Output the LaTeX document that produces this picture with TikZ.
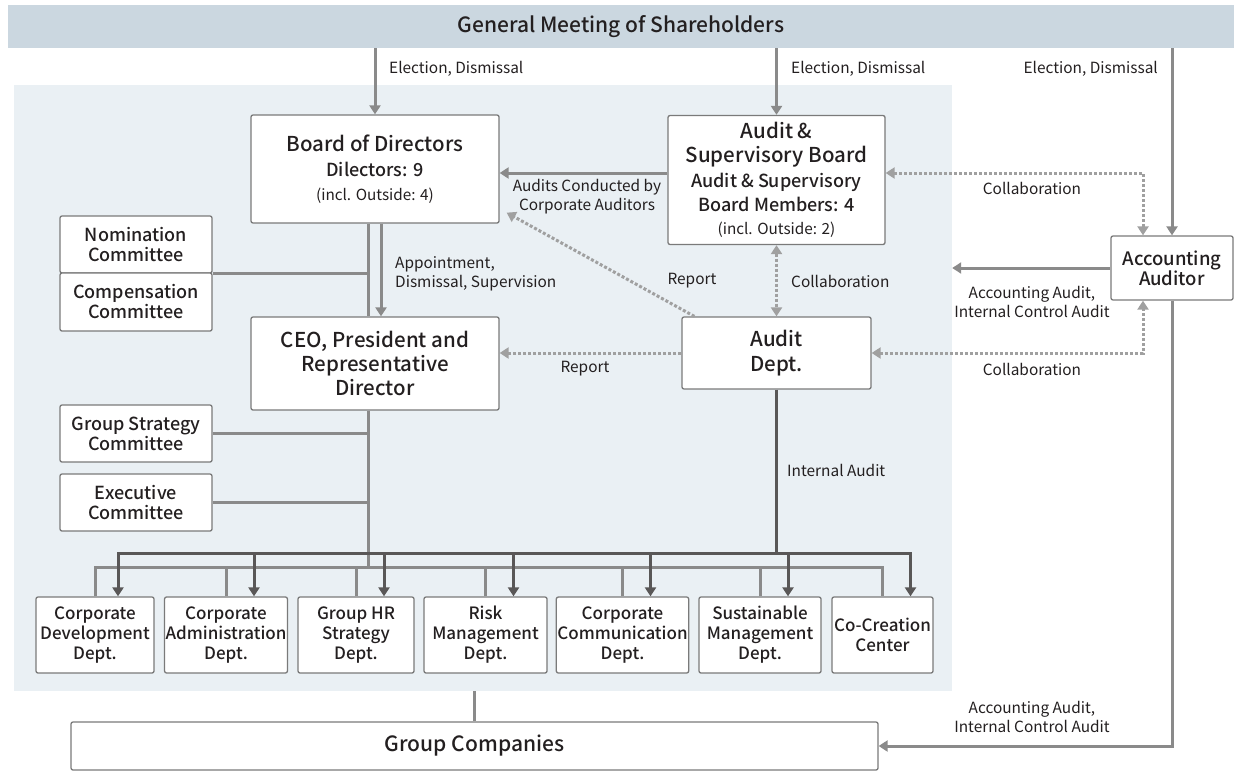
\documentclass[tikz,border=0pt]{standalone}
\usepackage{fontspec}
\setmainfont{Noto Sans CJK JP}[BoldFont={Noto Sans CJK JP Medium}]
\usetikzlibrary{arrows.meta}

\definecolor{bannerblue}{HTML}{CBD7E0}
\definecolor{panelblue}{HTML}{EAF0F4}
\definecolor{edgegray}{HTML}{7A7A7A}
\definecolor{linegray}{HTML}{8A8A8A}
\definecolor{busgray}{HTML}{595757}
\definecolor{dotgray}{HTML}{A0A0A0}
\definecolor{inkgray}{HTML}{231F20}

\newcommand\subline[1]{{\fontsize{18}{22}\selectfont #1}}
\newcommand\outline[1]{{\mdseries\fontsize{15.3}{19}\selectfont #1}}

\tikzset{
	box/.style={draw=edgegray, fill=white, line width=1.3pt, rounded corners=2pt, align=center, inner sep=1pt, text=inkgray, font=\bfseries\fontsize{20.5}{24}\selectfont},
	dept/.style={box, minimum height=76pt, font=\bfseries\fontsize{17}{20}\selectfont},
	cmte/.style={box, minimum width=152pt, font=\bfseries\fontsize{18}{20}\selectfont},
	lbl/.style={text=inkgray, inner sep=0pt, align=center, font=\fontsize{15.4}{19}\selectfont},
	tip/.style={-{Triangle[width=11pt,length=9pt]}},
	tips/.style={{Triangle[width=11pt,length=9pt]}-{Triangle[width=11pt,length=9pt]}},
	solidline/.style={draw=linegray, line width=3pt},
	busline/.style={draw=busgray, line width=3pt},
	dotline/.style={draw=dotgray, line width=3pt, dash pattern=on 3pt off 2pt},
}

\begin{document}
\begin{tikzpicture}[x=1pt,y=-1pt]
	\useasboundingbox (0,0) rectangle (1234,771);

	\node[fill=bannerblue, minimum width=1226pt, minimum height=43pt, text=inkgray, font=\bfseries\fontsize{21}{24}\selectfont] (gms) at (621,26.5) {General Meeting of Shareholders};
	\node[fill=panelblue, minimum width=938pt, minimum height=606pt] (panel) at (483,388) {};

	\node[box, minimum width=248pt, minimum height=108pt] (brd) at (375,169) {Board of Directors\\[1pt]\subline{Dilectors: 9}\\\outline{(incl. Outside: 4)}};
	\node[box, minimum width=217pt, minimum height=129pt] (aud) at (776.5,180) {Audit \&\\Supervisory Board\\[1pt]\subline{Audit \& Supervisory}\\\subline{Board Members: 4}\\[-1pt]\outline{(incl. Outside: 2)}};
	\node[box, minimum width=122pt, minimum height=64pt, font=\bfseries\fontsize{18.5}{20}\selectfont] (acc) at (1172,268) {Accounting\\Auditor};
	\node[box, minimum width=248pt, minimum height=93pt] (ceo) at (375,363.5) {CEO, President and\\Representative\\Director};
	\node[box, minimum width=189pt, minimum height=72pt, font=\bfseries\fontsize{20.5}{25}\selectfont] (adp) at (776.5,353) {Audit\\Dept.};

	\node[cmte, minimum height=57pt] (nom) at (136,244.5) {Nomination\\Committee};
	\node[cmte, minimum height=58pt] (cmp) at (136,302) {Compensation\\Committee};
	\node[cmte, minimum height=57pt] (gsc) at (136,433.5) {Group Strategy\\Committee};
	\node[cmte, minimum height=57pt] (exc) at (136,502.5) {Executive\\Committee};

	\node[dept, minimum width=118pt] (d1) at (95,635) {Corporate\\Development\\Dept.};
	\node[dept, minimum width=122pt] (d2) at (226,635) {Corporate\\Administration\\Dept.};
	\node[dept, minimum width=116pt] (d3) at (356,635) {Group HR\\Strategy\\Dept.};
	\node[dept, minimum width=123pt] (d4) at (485.5,635) {Risk\\Management\\Dept.};
	\node[dept, minimum width=131pt] (d5) at (622.5,635) {Corporate\\Communication\\Dept.};
	\node[dept, minimum width=122pt] (d6) at (760,635) {Sustainable\\Management\\Dept.};
	\node[dept, minimum width=101pt] (d7) at (882.5,635) {Co-Creation\\Center};

	\node[box, minimum width=807pt, minimum height=48pt, font=\bfseries\fontsize{21}{24}\selectfont] (grp) at (474.5,746) {Group Companies};

	\node[lbl, anchor=west] (el1) at (389,69) {Election, Dismissal};
	\node[lbl, anchor=west] (el2) at (791,69) {Election, Dismissal};
	\node[lbl, anchor=east] (el3) at (1158,69) {Election, Dismissal};
	\node[lbl] (acp) at (587,197) {Audits Conducted by\\Corporate Auditors};
	\node[lbl] (rp1) at (692,281) {Report};
	\node[lbl, anchor=west] (cl1) at (791,281) {Collaboration};
	\node[lbl, anchor=west, align=left] (apt) at (395,274) {Appointment,\\Dismissal, Supervision};
	\node[lbl] (rp2) at (585,369) {Report};
	\node[lbl] (cl2) at (1032,188) {Collaboration};
	\node[lbl] (aa1) at (1032,302) {Accounting Audit,\\Internal Control Audit};
	\node[lbl] (cl3) at (1032,369) {Collaboration};
	\node[lbl, anchor=west] (ina) at (787,470) {Internal Audit};
	\node[lbl] (aa2) at (1032,717) {Accounting Audit,\\Internal Control Audit};

	\coordinate (dkbus) at (0,553);
	\coordinate (grbus) at (0,567);
	\coordinate (trunk) at ([xshift=-7pt]ceo.south);

	\draw[solidline,tip] (gms.south -| brd.north) -- (brd.north);
	\draw[solidline,tip] (gms.south -| aud.north) -- (aud.north);
	\draw[solidline,tip] (gms.south -| acc.north) -- (acc.north);

	\draw[solidline,tip] (aud.west |- 0,173) -- (brd.east |- 0,173);
	\draw[dotline,tip] ([xshift=13pt]adp.north west) -- ([xshift=7pt,yshift=11pt]brd.south east);
	\draw[dotline,tip] (adp.west) -- (adp.west -| ceo.east);
	\draw[dotline,tips] (aud.south) -- (adp.north);
	\draw[dotline,tips] (aud.east |- 0,173) -| ([xshift=-29pt]acc.north);
	\draw[dotline,tips] (adp.east) -| ([xshift=-29pt]acc.south);

	\draw[solidline,tip] (acc.west) -- (acc.west -| panel.east);
	\draw[solidline,tip] (acc.south) |- (grp.east);
	\draw[solidline] (grp.north) -- (grp.north |- panel.south);

	\draw[solidline] ([xshift=-7pt]brd.south) -- ([xshift=-7pt]ceo.north);
	\draw[solidline,tip] ([xshift=6pt]brd.south) -- ([xshift=6pt]ceo.north);
	\draw[solidline] (nom.south east) -- (nom.south east -| trunk);
	\draw[solidline] (gsc.east) -- (gsc.east -| trunk);
	\draw[solidline] (exc.east) -- (exc.east -| trunk);
	\draw[solidline] (trunk) -- (trunk |- grbus);

	\draw[solidline] (d1.north) -- (d1.north |- grbus) -- (d7.north |- grbus) -- (d7.north);
	\foreach \d in {d2,d3,d4,d5,d6}
		\draw[solidline] (\d.north) -- (\d.north |- grbus);

	\draw[busline] (adp.south) -- (adp.south |- dkbus);
	\draw[busline,line cap=rect] ([xshift=23pt]d1.north |- dkbus) -- ([xshift=28pt]d7.north |- dkbus);
	\draw[busline,tip] ([xshift=23pt]d1.north |- dkbus) -- ([xshift=23pt]d1.north);
	\foreach \d in {d2,d3,d4,d5,d6,d7}
		\draw[busline,tip] ([xshift=28pt]\d.north |- dkbus) -- ([xshift=28pt]\d.north);
\end{tikzpicture}
\end{document}
